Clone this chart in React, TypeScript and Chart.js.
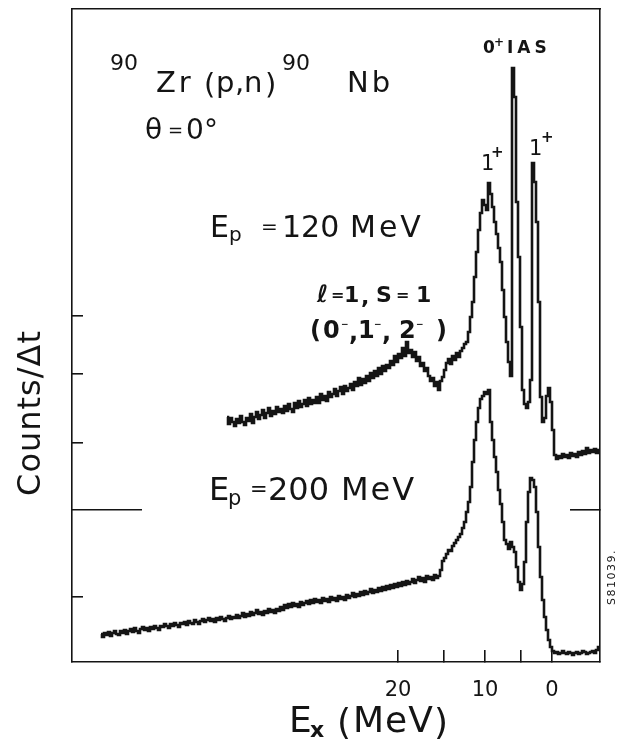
import React, { useEffect, useRef } from "react";
import { Chart, registerables } from "chart.js";

Chart.register(...registerables);

const FONT = "'DejaVu Sans', 'Liberation Sans', sans-serif";
const INK = "#141414";

// x axis: detector channel (time-of-flight bins); Ex tick marks sit at these channels
const CHANNEL_MIN = 0;
const CHANNEL_MAX = 264;
const exTickChannels = [163, 186, 206.5, 224.5, 240];
const exTickLabels = ["20", "", "10", "", "0"];

// y axis: counts / Δt (arbitrary units)
const COUNTS_MIN = 0;
const COUNTS_MAX = 653;
const yTickValues = [65, 219, 288, 346];
const yLongTickValues = [152];

// Ep = 120 MeV spectrum, first channel and counts per channel
const upperStart = 77;
const upperCounts = [
  245, 238, 244, 240, 236, 243, 239, 246, 240, 237, 244, 241, 248, 239, 245, 250, 243, 247, 252, 244, 249, 254, 246, 251, 248, 255, 250, 253,
  249, 256, 251, 258, 253, 250, 259, 254, 261, 255, 258, 262, 256, 264, 258, 262, 259,
  265, 259, 268, 262, 266, 261, 270, 265, 268, 273, 266, 271, 275, 268, 276, 271, 274,
  278, 272, 280, 276, 284, 277, 283, 279,
  286, 281, 289, 284, 291, 286, 294, 288, 296, 291,
  297, 294, 301, 297, 306, 300, 308,
  304, 314, 306, 320, 309, 312, 305, 310,
  301, 305, 296, 299, 291, 294,
  286, 281, 284, 276, 280, 272, 281,
  285, 292, 299, 303, 298, 306, 302, 309, 305, 311, 314, 318,
  320, 330, 345, 360, 385, 410, 432, 449, 462,
  457, 452, 479, 468, 455, 440, 428, 414, 400, 372, 345, 320, 300, 286,
  594, 565, 460, 405, 335, 272, 258, 254, 260, 282, 499, 480, 440, 360, 265, 240, 244, 266, 274, 260, 232, 207, 203,
  206, 204, 208, 205, 207, 204, 209, 206, 208, 205, 210, 207, 211, 208, 214, 209, 212, 210, 213, 209, 212,
];

// Ep = 200 MeV spectrum
const lowerStart = 14;
const lowerCounts = [
  28, 25, 29, 27, 30, 26, 29, 31, 28, 27, 31, 29, 32, 28, 31, 33, 30, 34, 31, 29, 33, 35, 32, 34, 31, 35, 33, 36, 34, 32, 36, 35, 38,
  36, 34, 38, 36, 39, 37, 35, 39, 38, 40, 37, 41, 39, 38, 42, 40, 38, 41, 43, 40, 42, 44, 41, 43, 40, 44, 42, 45, 43, 41, 44, 46, 43, 45, 44,
  47, 44, 46, 49, 45, 48, 46, 50, 47, 49, 52, 48, 50, 47, 51, 49, 53, 50, 52, 49, 53,
  51, 55, 52, 57, 54, 58, 55, 59, 56, 58, 55, 60, 57, 59,
  61, 58, 62, 59, 63, 60, 62, 59, 64, 61, 63, 60, 65, 62, 64, 61, 66, 63,
  65, 62, 67, 64, 66, 69, 65, 68, 66, 70, 67, 71, 68, 70, 73, 69, 72, 70,
  74, 71, 75, 72, 76, 73, 77, 74, 78, 75, 79, 76, 80, 77, 81, 78, 80,
  83, 79, 82, 85, 81, 84, 80, 86, 83, 85, 82, 87, 84, 86,
  92, 101, 104, 108, 112, 111, 116, 119, 122, 125, 128, 134, 140, 150, 160, 175, 200, 222, 240, 254, 263, 266, 270, 268, 272,
  240, 222, 205, 190, 172, 158, 140, 122, 118, 113, 120, 115, 110, 95, 80, 72, 78, 100, 140, 170, 184, 182, 175, 150, 115, 85, 62, 45, 32, 22, 15, 11,
  9, 10, 8, 9, 11, 9, 8, 10, 9, 7, 9, 10, 8, 9, 11, 10, 8, 9, 10, 11, 9, 12, 15,
];

type Piece = {
  t: string;
  x: number;
  y: number;
  s: number;
  b?: boolean;
  ls?: number;
  rot?: number;
  align?: CanvasTextAlign;
};

// annotation text, laid out in canvas pixels
const textPieces: Piece[] = [
  { t: "90", x: 110, y: 70, s: 22 },
  { t: "Zr", x: 156, y: 92, s: 29, ls: 3 },
  { t: "(", x: 204, y: 94, s: 29 },
  { t: "p", x: 216, y: 92, s: 29 },
  { t: ",", x: 235, y: 92, s: 29 },
  { t: "n", x: 244, y: 92, s: 29 },
  { t: ")", x: 265, y: 94, s: 29 },
  { t: "90", x: 282, y: 70, s: 22 },
  { t: "Nb", x: 347, y: 92, s: 29, ls: 3 },

  { t: "θ", x: 145, y: 139, s: 28 },
  { t: "=", x: 168, y: 136, s: 18 },
  { t: "0", x: 186, y: 139, s: 28 },
  { t: "°", x: 204, y: 139, s: 28 },

  { t: "0", x: 483, y: 53, s: 17, b: true },
  { t: "+", x: 494, y: 46, s: 12, b: true },
  { t: "IAS", x: 507, y: 53, s: 17, b: true, ls: 4 },

  { t: "1", x: 481, y: 170, s: 21 },
  { t: "+", x: 491, y: 157, s: 15, b: true },
  { t: "1", x: 529, y: 155, s: 21 },
  { t: "+", x: 541, y: 142, s: 15, b: true },

  { t: "E", x: 210, y: 237, s: 30 },
  { t: "p", x: 229, y: 241, s: 20 },
  { t: "=", x: 261, y: 233, s: 20 },
  { t: "120", x: 282, y: 237, s: 30 },
  { t: "MeV", x: 350, y: 237, s: 30, ls: 3 },

  { t: "ℓ", x: 317, y: 302, s: 24, b: true },
  { t: "=", x: 331, y: 300, s: 16, b: true },
  { t: "1", x: 344, y: 302, s: 22, b: true },
  { t: ",", x: 361, y: 304, s: 22, b: true },
  { t: "S", x: 376, y: 302, s: 22, b: true },
  { t: "=", x: 396, y: 300, s: 16, b: true },
  { t: "1", x: 416, y: 302, s: 22, b: true },

  { t: "(", x: 310, y: 338, s: 24, b: true },
  { t: "0", x: 323, y: 338, s: 24, b: true },
  { t: "−", x: 341, y: 327, s: 9, b: true },
  { t: ",", x: 349, y: 340, s: 24, b: true },
  { t: "1", x: 358, y: 338, s: 24, b: true },
  { t: "−", x: 374, y: 327, s: 9, b: true },
  { t: ",", x: 382, y: 340, s: 24, b: true },
  { t: "2", x: 399, y: 338, s: 24, b: true },
  { t: "−", x: 416, y: 327, s: 9, b: true },
  { t: ")", x: 436, y: 338, s: 24, b: true },

  { t: "E", x: 209, y: 500, s: 32 },
  { t: "p", x: 228, y: 505, s: 21 },
  { t: "=", x: 250, y: 496, s: 21 },
  { t: "200", x: 268, y: 500, s: 32 },
  { t: "MeV", x: 341, y: 500, s: 32, ls: 2 },

  { t: "E", x: 289, y: 732, s: 36 },
  { t: "x", x: 310, y: 737, s: 22, b: true },
  { t: "(", x: 337, y: 734, s: 36 },
  { t: "MeV", x: 353, y: 732, s: 36, ls: 1 },
  { t: ")", x: 434, y: 734, s: 36 },

  { t: "Counts/Δt", x: 40, y: 413, s: 32, ls: 1, rot: -90, align: "center" },
  { t: "S81039.", x: 615, y: 577, s: 11, ls: 1.5, rot: -90, align: "center" },
];

const textPlugin = {
  id: "figureText",
  afterDraw(chart: any) {
    const ctx: CanvasRenderingContext2D = chart.ctx;
    ctx.save();
    ctx.fillStyle = INK;
    ctx.textBaseline = "alphabetic";
    for (const p of textPieces) {
      ctx.save();
      ctx.font = `${p.b ? "bold " : ""}${p.s}px ${FONT}`;
      (ctx as any).letterSpacing = `${p.ls ?? 0}px`;
      ctx.textAlign = p.align ?? "left";
      ctx.translate(p.x, p.y);
      if (p.rot) ctx.rotate((p.rot * Math.PI) / 180);
      ctx.fillText(p.t, 0, 0);
      ctx.restore();
    }
    ctx.restore();
  },
};

function toPoints(start: number, counts: number[]) {
  return counts.map((v, i) => ({ x: start + i + 0.5, y: v }));
}

export default function App() {
  const ref = useRef<HTMLCanvasElement | null>(null);

  useEffect(() => {
    if (!ref.current) return;
    const lineStyle = {
      borderColor: INK,
      borderWidth: 2.6,
      pointRadius: 0,
      stepped: "middle" as const,
      fill: false,
      tension: 0,
      xAxisID: "x",
      yAxisID: "y",
    };
    const frameBorder = { display: true, color: INK, width: 1.6 };
    const chart = new Chart(ref.current, {
      type: "line",
      data: {
        datasets: [
          { label: "Ep = 120 MeV", data: toPoints(upperStart, upperCounts), ...lineStyle },
          { label: "Ep = 200 MeV", data: toPoints(lowerStart, lowerCounts), ...lineStyle },
        ],
      },
      options: {
        responsive: false,
        animation: false,
        devicePixelRatio: 1,
        layout: { padding: { top: 9, right: 18, left: 0, bottom: 0 } },
        plugins: { legend: { display: false }, tooltip: { enabled: false }, title: { display: false } },
        scales: {
          x: {
            type: "linear",
            position: "bottom",
            min: CHANNEL_MIN,
            max: CHANNEL_MAX,
            afterBuildTicks: (s: any) => {
              s.ticks = exTickChannels.map((v) => ({ value: v }));
            },
            afterFit: (s: any) => {
              s.height = 85;
            },
            grid: { display: true, drawOnChartArea: false, drawTicks: true, tickLength: -12, color: INK, lineWidth: 1.6 },
            border: frameBorder,
            ticks: {
              autoSkip: false,
              maxRotation: 0,
              padding: 28,
              color: INK,
              font: { family: FONT, size: 21 },
              callback: (_v: any, i: number) => exTickLabels[i] ?? "",
            },
          },
          xTop: {
            type: "linear",
            position: "top",
            min: CHANNEL_MIN,
            max: CHANNEL_MAX,
            afterFit: (s: any) => {
              s.height = 0;
            },
            grid: { display: false },
            border: frameBorder,
            ticks: { display: false },
          },
          y: {
            type: "linear",
            position: "left",
            min: COUNTS_MIN,
            max: COUNTS_MAX,
            afterBuildTicks: (s: any) => {
              s.ticks = yTickValues.map((v) => ({ value: v }));
            },
            afterFit: (s: any) => {
              s.width = 72;
            },
            grid: { display: true, drawOnChartArea: false, drawTicks: true, tickLength: -11, color: INK, lineWidth: 1.6 },
            border: frameBorder,
            ticks: { display: false },
          },
          yLong: {
            type: "linear",
            position: "left",
            weight: -1,
            min: COUNTS_MIN,
            max: COUNTS_MAX,
            afterBuildTicks: (s: any) => {
              s.ticks = yLongTickValues.map((v) => ({ value: v }));
            },
            afterFit: (s: any) => {
              s.width = 0;
            },
            grid: { display: true, drawOnChartArea: false, drawTicks: true, tickLength: -70, color: INK, lineWidth: 1.6 },
            border: { display: false },
            ticks: { display: false },
          },
          yRight: {
            type: "linear",
            position: "right",
            min: COUNTS_MIN,
            max: COUNTS_MAX,
            afterBuildTicks: (s: any) => {
              s.ticks = yLongTickValues.map((v) => ({ value: v }));
            },
            afterFit: (s: any) => {
              s.width = 0;
            },
            grid: { display: true, drawOnChartArea: false, drawTicks: true, tickLength: -30, color: INK, lineWidth: 1.6 },
            border: frameBorder,
            ticks: { display: false },
          },
        },
      } as any,
      plugins: [textPlugin],
    });
    return () => chart.destroy();
  }, []);

  return (
    <div style={{ position: "absolute", left: 0, top: 0, width: 618, height: 747, background: "#fff" }}>
      <canvas ref={ref} width={618} height={747} style={{ display: "block" }} />
    </div>
  );
}
